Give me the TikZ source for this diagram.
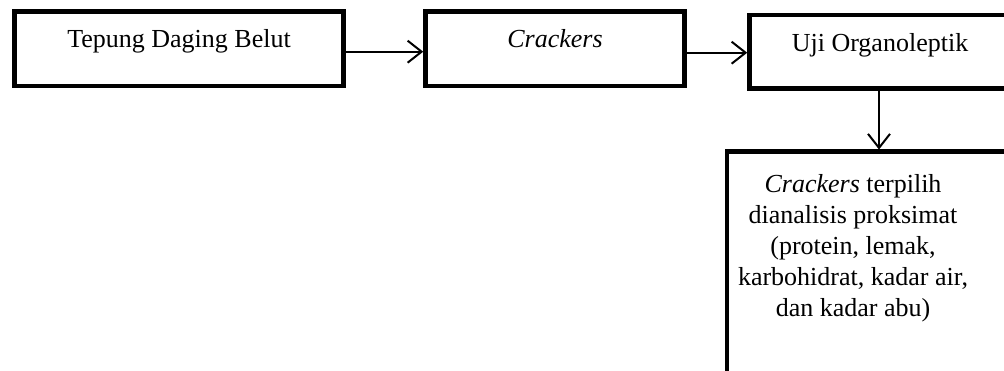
\documentclass[tikz,border=0pt]{standalone}
\usepackage{fontspec}
\setmainfont{Liberation Serif}
\usetikzlibrary{arrows.meta}
\begin{document}
\begin{tikzpicture}[x=1pt,y=-1pt,
  box/.style={draw=black, line width=4.5pt, rectangle, inner sep=0pt, align=center,
    font=\fontsize{26}{31}\selectfont},
  flow/.style={draw=black, line width=2pt,
    -{Straight Barb[length=14pt,width=22pt,line width=2pt]}},
  label/.style={inner sep=0pt, align=center, font=\fontsize{26}{31}\selectfont}]
\useasboundingbox (0,0) rectangle (1004,371);
\clip (0,0) rectangle (1004,371);

% single-line process boxes
\node[box, minimum width=329pt, text height=36.5pt, text depth=38pt]
  (flour) at (179,48.75) {Tepung Daging Belut};
\node[box, minimum width=259pt, text height=36.5pt, text depth=38pt]
  (crackers) at (555,48.75) {\textit{Crackers}};
\node[box, minimum width=261pt, text height=37pt, text depth=36.5pt]
  (organo) at (880,51.75) {Uji Organoleptik};

% result box, running past the page edge
\node[box, minimum width=320pt, minimum height=280pt, anchor=north west]
  (result) at (724.5,149.5) {};
\node[label, anchor=north] (resulttext) at (853,174.2)
  {\textit{Crackers} terpilih\\ dianalisis proksimat\\ (protein, lemak,\\
   karbohidrat, kadar air,\\ dan kadar abu)};

% connectors
\draw[flow] (flour.east |- 0,51.7) -- (crackers.west |- 0,51.7);
\draw[flow] (crackers.east |- 0,52.7) -- (organo.west |- 0,52.7);
\draw[flow] (organo.south -| 879,0) -- (result.north -| 879,0);
\end{tikzpicture}
\end{document}
